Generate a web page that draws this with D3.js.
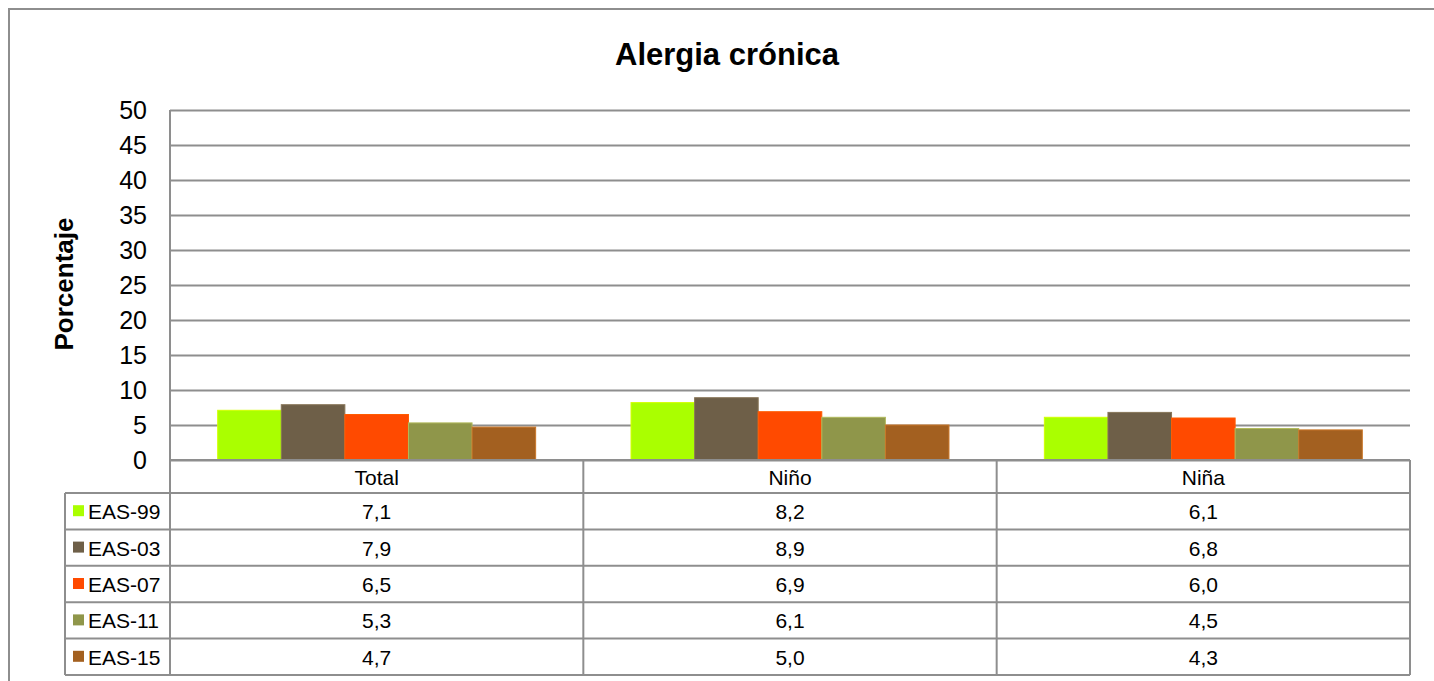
<!DOCTYPE html>
<html>
<head>
<meta charset="utf-8">
<script src="https://cdn.jsdelivr.net/npm/d3@7"></script>
<style>
  body { margin: 0; background: #fff; }
  svg { display: block; font-family: "Liberation Sans", Arial, sans-serif; }
  .grid line { stroke: #8e8e8e; stroke-width: 2; }
  .grid path { display: none; }
  .tbl { stroke: #8e8e8e; stroke-width: 2; fill: none; }
</style>
</head>
<body>
<svg id="chart"></svg>
<script>
// data
const categories = ['Total', 'Niño', 'Niña'];
const seriesNames = ['EAS-99', 'EAS-03', 'EAS-07', 'EAS-11', 'EAS-15'];
const eas99 = [7.1, 8.2, 6.1];
const eas03 = [7.9, 8.9, 6.8];
const eas07 = [6.5, 6.9, 6.0];
const eas11 = [5.3, 6.1, 4.5];
const eas15 = [4.7, 5.0, 4.3];
const seriesColors = ['#aaff00', '#6e5f48', '#ff4a00', '#8f964a', '#a36020'];
const yTicks = [0, 5, 10, 15, 20, 25, 30, 35, 40, 45, 50];

const values = [eas99, eas03, eas07, eas11, eas15];
const fmt = v => v.toFixed(1).replace('.', ',');

const W = 1434, H = 681;
const plot = {left: 170, right: 1410, top: 110, bottom: 460};
const legendLeft = 65;
const catRowBottom = 493, tableBottom = 675;

const svg = d3.select('#chart').attr('width', W).attr('height', H);

// outer frame
svg.append('rect')
  .attr('x', 9).attr('y', 9)
  .attr('width', W + 20).attr('height', H + 20)
  .attr('fill', 'none').attr('stroke', '#8e8e8e').attr('stroke-width', 2);

// title
svg.append('text')
  .attr('x', 727).attr('y', 65)
  .attr('text-anchor', 'middle')
  .attr('font-size', 31).attr('font-weight', 'bold')
  .text('Alergia crónica');

// scales
const y = d3.scaleLinear().domain([0, 50]).range([plot.bottom, plot.top]);
const x0 = d3.scaleBand().domain(categories).range([plot.left, plot.right]);
const x1 = d3.scaleBand().domain(seriesNames).range([0, x0.bandwidth()])
  .paddingInner(0).paddingOuter(0.75);
const rowY = d3.scaleBand().domain(seriesNames).range([catRowBottom, tableBottom]);

// grid + tick labels
const grid = svg.append('g')
  .attr('class', 'grid')
  .attr('transform', `translate(${plot.left},0)`)
  .call(d3.axisLeft(y).tickValues(yTicks).tickSize(-(plot.right - plot.left)).tickPadding(23));
grid.selectAll('text')
  .attr('font-size', 25).attr('fill', '#000')
  .attr('font-family', '"Liberation Sans", Arial, sans-serif');

// y axis title
svg.append('text')
  .attr('transform', 'translate(73,284) rotate(-90)')
  .attr('text-anchor', 'middle')
  .attr('font-size', 26).attr('font-weight', 'bold')
  .text('Porcentaje');

// bars
const groups = svg.append('g').selectAll('g')
  .data(categories)
  .join('g')
  .attr('transform', d => `translate(${x0(d)},0)`);

groups.selectAll('rect')
  .data((c, ci) => seriesNames.map((s, si) => ({s, si, v: values[si][ci]})))
  .join('rect')
  .attr('x', d => x1(d.s))
  .attr('width', x1.bandwidth())
  .attr('y', d => y(d.v))
  .attr('height', d => y(0) - y(d.v))
  .attr('fill', d => seriesColors[d.si])
  .attr('stroke', d => d3.rgb(seriesColors[d.si]).brighter(0.6))
  .attr('stroke-width', 1);

// data table
const tbl = svg.append('g');

// category header row
tbl.append('line').attr('class', 'tbl')
  .attr('x1', plot.left).attr('x2', plot.right)
  .attr('y1', plot.bottom).attr('y2', plot.bottom);
tbl.selectAll('text.cat')
  .data(categories)
  .join('text')
  .attr('class', 'cat')
  .attr('x', d => x0(d) + x0.bandwidth() / 2)
  .attr('y', (plot.bottom + catRowBottom) / 2 + 8)
  .attr('text-anchor', 'middle')
  .attr('font-size', 21)
  .text(d => d);

// horizontal row lines
tbl.selectAll('line.row')
  .data([catRowBottom, ...seriesNames.map(s => rowY(s) + rowY.bandwidth())])
  .join('line')
  .attr('class', 'tbl')
  .attr('x1', legendLeft).attr('x2', plot.right)
  .attr('y1', d => d).attr('y2', d => d);

// vertical lines
tbl.append('line').attr('class', 'tbl')
  .attr('x1', legendLeft).attr('x2', legendLeft)
  .attr('y1', catRowBottom).attr('y2', tableBottom);
tbl.append('line').attr('class', 'tbl')
  .attr('x1', plot.left).attr('x2', plot.left)
  .attr('y1', plot.top).attr('y2', tableBottom);
tbl.selectAll('line.col')
  .data(categories)
  .join('line')
  .attr('class', 'tbl')
  .attr('x1', d => x0(d) + x0.bandwidth()).attr('x2', d => x0(d) + x0.bandwidth())
  .attr('y1', plot.bottom).attr('y2', tableBottom);

// legend keys + names
const rows = tbl.selectAll('g.row')
  .data(seriesNames)
  .join('g')
  .attr('transform', d => `translate(0,${rowY(d) + rowY.bandwidth() / 2})`);
rows.append('rect')
  .attr('x', 73).attr('y', -6)
  .attr('width', 11).attr('height', 11)
  .attr('fill', (d, i) => seriesColors[i]);
rows.append('text')
  .attr('x', 88).attr('y', 8)
  .attr('font-size', 21)
  .text(d => d);
rows.selectAll('text.val')
  .data((s, si) => categories.map((c, ci) => ({c, v: values[si][ci]})))
  .join('text')
  .attr('class', 'val')
  .attr('x', d => x0(d.c) + x0.bandwidth() / 2)
  .attr('y', 8)
  .attr('text-anchor', 'middle')
  .attr('font-size', 21)
  .text(d => fmt(d.v));
</script>
</body>
</html>
